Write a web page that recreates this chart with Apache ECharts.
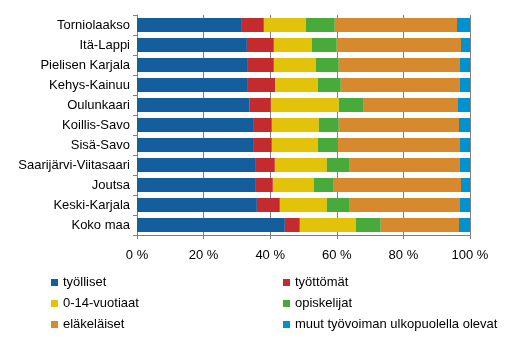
<!DOCTYPE html>
<html><head><meta charset="utf-8">
<script src="https://cdn.jsdelivr.net/npm/echarts@6/dist/echarts.min.js"></script>
<style>html,body{margin:0;padding:0;background:#fff}#c{width:509px;height:343px}</style>
</head><body><div id="c"></div>
<script>
const categories = ["Torniolaakso","Itä-Lappi","Pielisen Karjala","Kehys-Kainuu","Oulunkaari","Koillis-Savo","Sisä-Savo","Saarijärvi-Viitasaari","Joutsa","Keski-Karjala","Koko maa"];
const seriesNames = ["työlliset","työttömät","0-14-vuotiaat","opiskelijat","eläkeläiset","muut työvoiman ulkopuolella olevat"];
const tyolliset   = [31.5,33.0,33.3,33.3,33.7,35.1,35.1,35.7,35.7,36.0,44.4];
const tyottomat   = [6.6,8.1,7.8,8.2,6.5,5.4,5.4,5.7,5.1,6.9,4.5];
const lapset      = [12.6,11.4,12.6,12.8,20.4,14.1,13.8,15.6,12.3,14.1,16.8];
const opiskelijat = [8.7,7.5,6.9,6.9,7.5,6.0,6.0,6.9,6.0,6.9,7.5];
const elakelaiset = [36.7,37.3,36.4,35.8,28.3,36.1,36.7,33.1,38.2,33.1,23.5];
const muut        = [3.9,2.7,3.0,3.0,3.6,3.3,3.0,3.0,2.7,3.0,3.3];
const xTicks = [0,20,40,60,80,100];

const colors = ["#145E9E","#C42B2E","#E2C30A","#48AA3A","#D78A2D","#0092CE"];
const values = [tyolliset,tyottomat,lapset,opiskelijat,elakelaiset,muut];
const font = "'Liberation Sans', Arial, sans-serif";
const chart = echarts.init(document.getElementById('c'), null, {renderer:'canvas'});
chart.setOption({
  animation:false,
  color: colors,
  grid:{left:137,right:39,top:15,bottom:108,containLabel:false},
  xAxis:{type:'value',min:xTicks[0],max:xTicks[xTicks.length-1],interval:20,
    axisLine:{show:true,lineStyle:{color:'#808080'}},
    axisTick:{show:true,length:4,lineStyle:{color:'#808080'}},
    splitLine:{show:true,lineStyle:{color:'#808080'}},
    axisLabel:{formatter:'{value} %',color:'#000',fontFamily:font,fontSize:13,margin:14}},
  yAxis:{type:'category',data:categories,inverse:true,
    axisLine:{show:true,lineStyle:{color:'#808080'}},
    axisTick:{show:true,length:4,lineStyle:{color:'#808080'}},
    axisLabel:{color:'#000',fontFamily:font,fontSize:13,margin:7}},
  legend:[
    {orient:'vertical',left:51,top:276,padding:0,itemWidth:7,itemHeight:7,itemGap:8,icon:'rect',
     textStyle:{fontFamily:font,fontSize:13,color:'#000'},
     data:[seriesNames[0],seriesNames[2],seriesNames[4]]},
    {orient:'vertical',left:283,top:276,padding:0,itemWidth:7,itemHeight:7,itemGap:8,icon:'rect',
     textStyle:{fontFamily:font,fontSize:13,color:'#000'},
     data:[seriesNames[1],seriesNames[3],seriesNames[5]]}
  ],
  series: seriesNames.map((n,i)=>({name:n,type:'bar',stack:'all',data:values[i],barWidth:14}))
});
</script></body></html>
